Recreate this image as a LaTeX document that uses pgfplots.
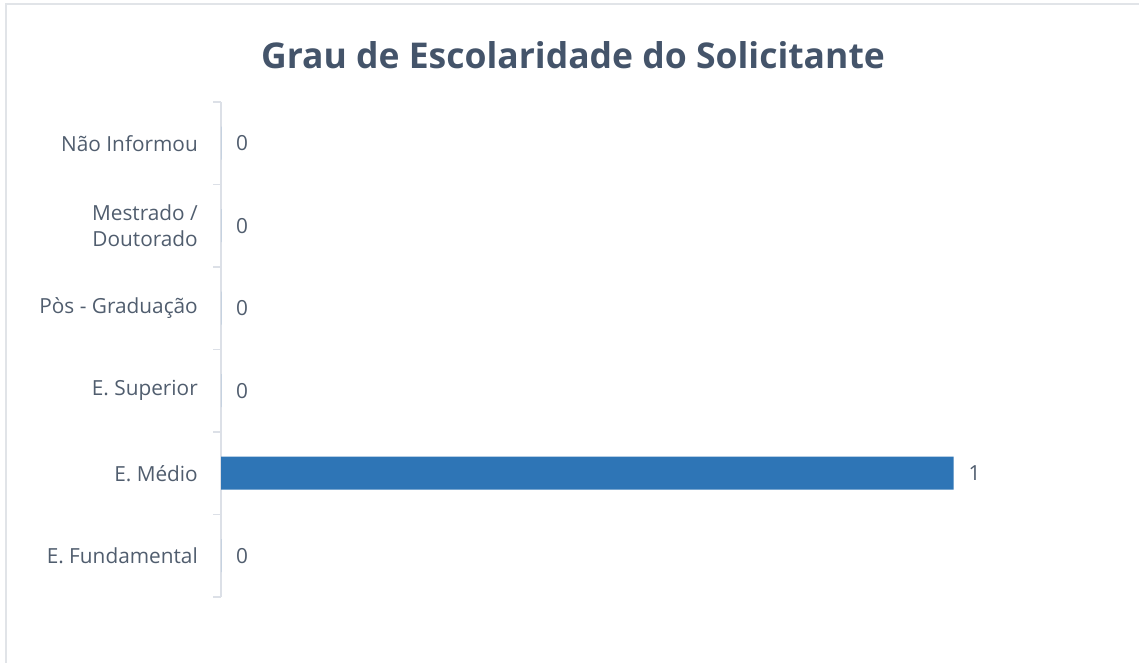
\documentclass[border=0pt]{standalone}
\usepackage{fontspec}
\setmainfont{Open Sans}
\usepackage{pgfplots}
\pgfplotsset{compat=1.18}
\definecolor{titlecol}{HTML}{44546A}
\definecolor{labcol}{HTML}{505D6E}
\definecolor{barcol}{HTML}{2E75B6}
\definecolor{axcol}{HTML}{DCE0E7}
\definecolor{framecol}{HTML}{E1E4E8}
\begin{document}
\begin{tikzpicture}[x=1pt,y=1pt]
\path[use as bounding box] (0,0) rectangle (1139,663);
\draw[framecol, line width=2.5pt] (6,0) -- (6,659) -- (1139,659);
\node[font=\fontsize{35.5}{40}\selectfont\bfseries, text=titlecol] at (573,608) {Grau de Escolaridade do Solicitante};
\begin{axis}[
  at={(221pt,66pt)}, anchor=south west,
  scale only axis, width=879pt, height=495pt,
  xmin=0, xmax=1.2, ymin=-0.5, ymax=5.5,
  axis x line=none, axis y line=left,
  y axis line style={-, draw=axcol, line width=1.3pt},
  xbar, bar width=33pt,
  /pgf/number format/assume math mode=true,
  ytick={0,...,5},
  yticklabels={E. Fundamental, E. Médio, E. Superior, Pòs - Graduação, {Mestrado /\\Doutorado}, Não Informou},
  major tick length=0pt,
  minor ytick={-0.5,0.5,...,5.5},
  minor tick length=8pt,
  tick align=outside,
  minor tick style={draw=axcol, line width=1.3pt},
  yticklabel style={align=right, font=\fontsize{20.8}{26.6}\selectfont, text=labcol, inner sep=0pt, xshift=-23pt},
  nodes near coords,
  nodes near coords style={font=\fontsize{20.8}{24}\selectfont, text=labcol, anchor=west, inner sep=0pt, xshift=15pt},
]
\addplot[fill=barcol, draw=none] coordinates {(0,0) (1,1) (0,2) (0,3) (0,4) (0,5)};
\end{axis}
\end{tikzpicture}
\end{document}
